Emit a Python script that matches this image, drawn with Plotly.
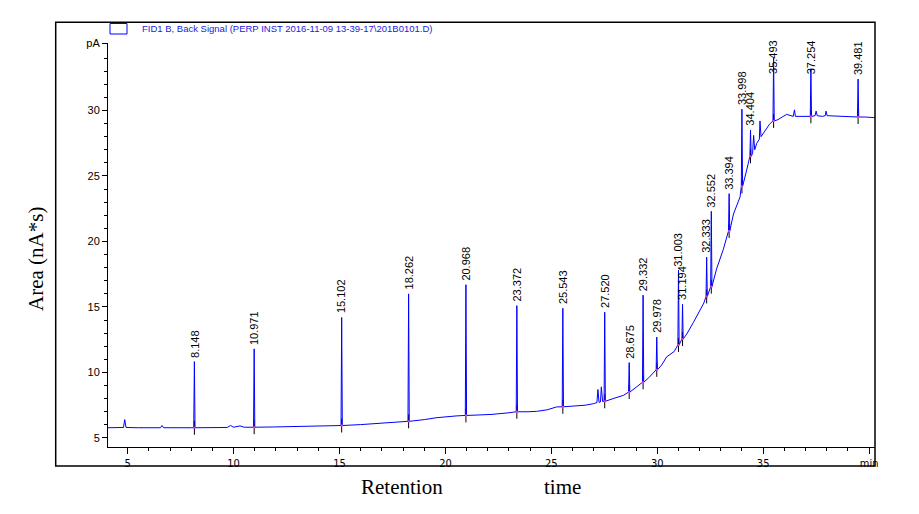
import plotly.graph_objects as go

# ---------------- data ----------------
# baseline / drift of the FID signal (min, pA)
baseline_time = [4.07, 4.6, 4.80, 4.86, 4.92, 5.5, 6.55, 6.62, 6.7, 8.0, 9.7, 9.85, 10.0, 10.3, 10.5,
                 11.9, 13.0, 13.9, 15.0, 16.0, 17.2, 18.1, 19.0, 19.6, 20.5, 21.5, 22.2, 23.0,
                 23.9, 24.3, 24.8, 25.25, 26.0, 26.6, 27.0, 27.15, 27.20, 27.25, 27.32, 27.36, 27.42,
                 28.0, 28.4, 29.0, 29.6, 30.2, 30.45, 30.8, 31.4, 31.7, 32.0, 32.2, 32.8, 33.12,
                 33.6, 33.91, 34.2, 34.5, 34.55, 34.6, 34.7, 34.82, 34.85, 34.9, 35.17, 35.3,
                 35.7, 35.9, 36.11, 36.42, 36.48, 36.52, 36.6, 37.0, 37.45, 37.5, 37.55, 37.8,
                 37.93, 37.97, 38.02, 38.5, 39.0, 39.8, 40.28]
baseline_signal = [5.78, 5.78, 5.80, 6.40, 5.80, 5.78, 5.78, 5.95, 5.78, 5.78, 5.80, 5.95, 5.82, 5.92, 5.82,
                   5.84, 5.86, 5.92, 5.95, 6.02, 6.15, 6.25, 6.40, 6.55, 6.68, 6.75, 6.80, 6.92,
                   7.00, 7.03, 7.15, 7.37, 7.42, 7.50, 7.62, 7.70, 8.70, 7.72, 7.75, 8.90, 7.78,
                   8.05, 8.25, 8.85, 9.60, 10.55, 11.20, 11.60, 12.95, 13.80, 14.70, 15.30, 17.90, 19.40,
                   22.10, 23.40, 25.30, 26.70, 28.10, 27.00, 27.50, 27.80, 29.20, 28.00, 28.70, 28.95,
                   29.30, 29.50, 29.70, 29.55, 30.05, 29.55, 29.55, 29.60, 29.60, 29.95, 29.60, 29.55,
                   29.60, 29.95, 29.60, 29.55, 29.50, 29.50, 29.45]

# labelled peaks
peak_label = ["8.148", "10.971", "15.102", "18.262", "20.968", "23.372", "25.543", "27.520",
              "28.675", "29.332", "29.978", "31.003", "31.194", "32.333", "32.552", "33.394",
              "33.998", "34.404", "35.493", "37.254", "39.481"]
peak_rt = [8.148, 10.971, 15.102, 18.262, 20.968, 23.372, 25.543, 27.520,
           28.675, 29.332, 29.978, 31.003, 31.194, 32.333, 32.552, 33.394,
           33.998, 34.404, 35.493, 37.254, 39.481]
peak_apex = [10.83, 11.80, 14.20, 16.00, 16.70, 15.10, 14.90, 14.60,
             10.75, 15.90, 12.70, 17.80, 15.20, 18.80, 22.30, 23.65,
             30.10, 28.50, 34.00, 33.20, 32.40]
peak_base = [5.78, 5.82, 5.95, 6.27, 6.72, 7.00, 7.38, 7.80,
             8.50, 9.25, 10.20, 12.10, 12.55, 15.80, 16.55, 20.80,
             24.20, 26.50, 29.20, 29.55, 29.50]

x_ticks = [5, 10, 15, 20, 25, 30, 35, 40]
x_ticktext = ["5", "10", "15", "20", "25", "30", "35", "min"]
y_ticks = [5, 10, 15, 20, 25, 30, 35.15]
y_ticktext = ["5", "10", "15", "20", "25", "30", "pA"]
x_range = [4.07, 40.28]
y_range = [4.31, 35.15]

legend_text = "FID1 B, Back Signal (PERP INST 2016-11-09 13-39-17\\201B0101.D)"

# ---------------- build the signal trace ----------------
pts = [(t, s) for t, s in zip(baseline_time, baseline_signal)
       if all(abs(t - rt) > 0.06 for rt in peak_rt)]
for rt, ap, b in zip(peak_rt, peak_apex, peak_base):
    pts += [(rt - 0.03, b), (rt, ap), (rt + 0.03, b)]
pts.sort()
sig_t = [p[0] for p in pts]
sig_y = [p[1] for p in pts]

BLUE = "#0000ff"
fig = go.Figure()

# integration markers (black ticks at peak start)
fig.add_trace(go.Scatter(x=peak_rt, y=peak_base, mode="markers", hoverinfo="skip",
                         marker=dict(symbol="line-ns", size=10, line=dict(color="black", width=1)),
                         showlegend=False))
fig.add_trace(go.Scatter(x=sig_t, y=sig_y, mode="lines", line=dict(color=BLUE, width=1),
                         name="FID1 B", showlegend=False))
fig.add_trace(go.Scatter(x=peak_rt, y=peak_base, mode="markers", hoverinfo="skip",
                         marker=dict(symbol="square", size=2, color="#ff33cc"),
                         showlegend=False))

# peak labels
label_span = 2.7
for lab, rt, ap in zip(peak_label, peak_rt, peak_apex):
    fig.add_annotation(x=rt, y=min(ap, y_range[1] - label_span), text=lab, textangle=-90,
                       showarrow=False, xanchor="center", yanchor="bottom", yshift=2,
                       font=dict(family="Liberation Sans, Arial, sans-serif", size=11, color="black"))

L, R, T, B = 108, 44, 43, 67
W, H = 919, 514
pw, ph = W - L - R, H - T - B


def px(x):
    return (x - L) / pw


def py(y):
    return (H - B - y) / ph


# outer frame
fig.add_shape(type="rect", xref="paper", yref="paper", x0=px(55.7), x1=px(875), y0=py(466), y1=py(22.3),
              line=dict(color="black", width=1.5), fillcolor="rgba(0,0,0,0)")
# legend box + text
fig.add_shape(type="rect", xref="paper", yref="paper", x0=px(110), x1=px(127), y0=py(34), y1=py(23.5),
              line=dict(color=BLUE, width=1), fillcolor="rgba(0,0,0,0)")
fig.add_annotation(xref="paper", yref="paper", x=px(140), y=py(29), text=legend_text, showarrow=False,
                   xanchor="left", yanchor="middle",
                   font=dict(family="Liberation Sans, Arial, sans-serif", size=9.5, color="#2222dd"))

serif = "Liberation Serif, Times New Roman, serif"
fig.add_annotation(xref="paper", yref="paper", x=px(36), y=py(259), text="Area (nA*s)", textangle=-90,
                   showarrow=False, xanchor="center", yanchor="middle", font=dict(family=serif, size=21, color="black"))
fig.add_annotation(xref="paper", yref="paper", x=px(402), y=py(487), text="Retention",
                   showarrow=False, xanchor="center", yanchor="middle", font=dict(family=serif, size=21, color="black"))
fig.add_annotation(xref="paper", yref="paper", x=px(562), y=py(487), text="time",
                   showarrow=False, xanchor="center", yanchor="middle", font=dict(family=serif, size=21, color="black"))

fig.update_layout(
    width=W, height=H, margin=dict(l=L, r=R, t=T, b=B, pad=0),
    paper_bgcolor="white", plot_bgcolor="white",
    xaxis=dict(range=x_range, tickvals=x_ticks, ticktext=x_ticktext, showgrid=False, zeroline=False,
               showline=True, linecolor="black", linewidth=1, ticks="outside", ticklen=6, tickcolor="black",
               tickfont=dict(family="Liberation Sans Narrow, DejaVu Sans Condensed, Arial Narrow, sans-serif",
                             size=11, color="black"),
               minor=dict(tickvals=[v for v in range(5, 41) if v % 5], ticks="outside", ticklen=3,
                          tickcolor="black", showgrid=False)),
    yaxis=dict(range=y_range, tickvals=y_ticks, ticktext=y_ticktext, showgrid=False, zeroline=False,
               showline=True, linecolor="black", linewidth=1, ticks="outside", ticklen=5, tickcolor="black",
               tickfont=dict(family="Liberation Sans, Arial, sans-serif", size=11, color="black"),
               minor=dict(tickvals=[v for v in range(6, 35) if v % 5], ticks="outside", ticklen=3,
                          tickcolor="black", showgrid=False)),
)

fig.write_html("out.html")
